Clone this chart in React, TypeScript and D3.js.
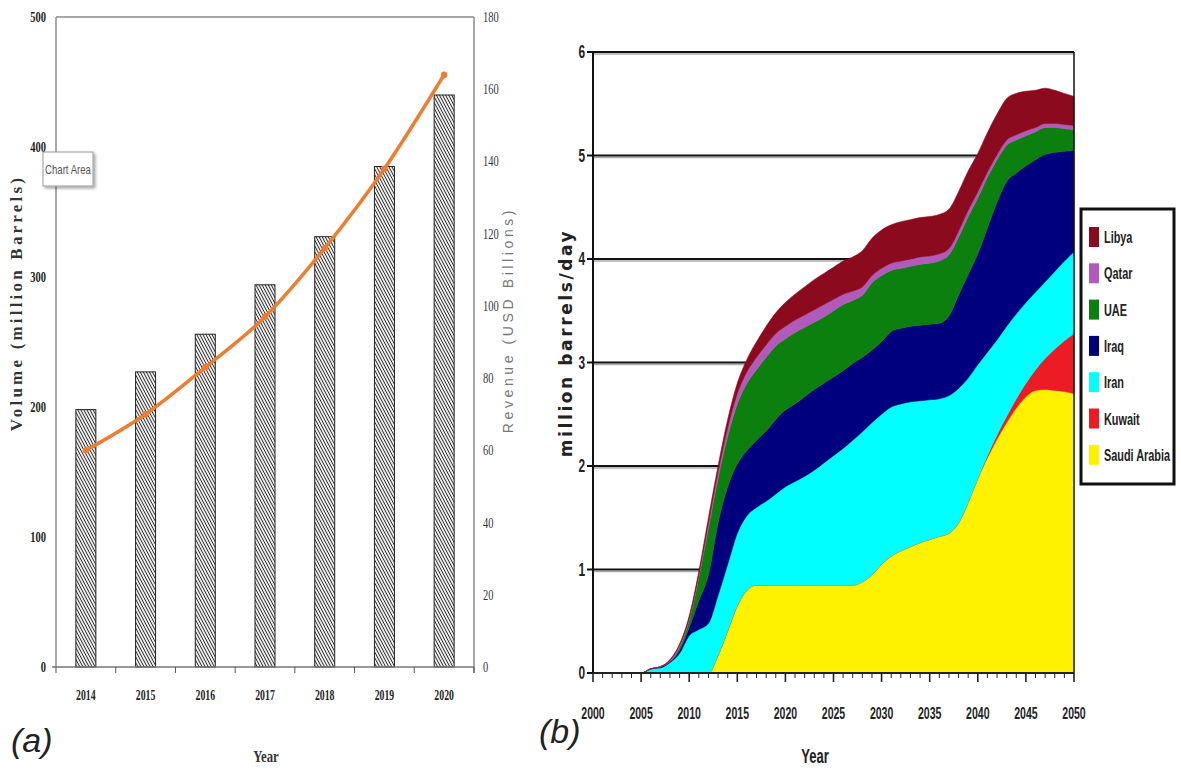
import React from 'react';
import * as d3 from 'd3';

// ---- panel (a) data ----
const barYears = ['2014', '2015', '2016', '2017', '2018', '2019', '2020'];
const volume = [198, 227, 256, 294, 331, 385, 440];
const revenue = [60, 70, 83, 97, 116, 138, 164];
const volTicks = [0, 100, 200, 300, 400, 500];
const revTicks = [0, 20, 40, 60, 80, 100, 120, 140, 160, 180];

// ---- panel (b) data, 2000..2050 ----
const firstYear = 2000;
const saudi = [0,0,0,0,0,0,0,0,0,0,0,0,0, 0.17,0.41,0.65,0.8, 0.85,0.85,0.85,0.85,0.85,0.85,0.85,0.85,0.85,0.85,0.85,
  0.88,0.95,1.05,1.13,1.18,1.22,1.26,1.29,1.32,1.35,1.45,1.65,1.88,2.08,2.26,2.42,2.56,2.67,2.73,2.74,2.73,2.72,2.7];
const kuwait = [0,0,0,0,0,0,0,0,0,0,0,0,0,0,0,0,0,0,0,0,0,0,0,0,0,0,0,0,0,0,0,0,0,0,0,0,0,0,0,0,0,
  0.02,0.04,0.06,0.09,0.13,0.2,0.3,0.4,0.49,0.58];
const iran = [0,0,0,0,0,0, 0.04,0.05,0.1,0.19,0.36,0.42,0.48,
  0.58,0.64,0.7,0.72,0.75,0.81,0.88,0.95,1.0,1.05,1.11,1.18,1.25,1.32,1.4,
  1.45,1.47,1.45,1.44,1.42,1.4,1.37,1.35,1.33,1.33,1.3,1.2,1.1,1.0,0.92,0.87,0.82,0.78,0.75,0.74,0.75,0.77,0.79];
const iraq = [0,0,0,0,0,0,0, 0.01,0.01,0.03,0.08,0.28,0.47,
  0.7,0.75,0.67,0.63,0.65,0.68,0.72,0.74,0.75,0.77,0.78,0.77,0.76,0.75,0.74,
  0.72,0.7,0.7,0.73,0.73,0.73,0.73,0.73,0.73,0.77,0.9,1.0,1.07,1.2,1.33,1.4,1.36,1.32,1.28,1.23,1.15,1.06,0.98];
const uae = [0,0,0,0,0,0,0,0, 0,0.03,0.07,0.22,0.45,
  0.43,0.49,0.58,0.65,0.68,0.71,0.71,0.69,0.69,0.67,0.65,0.64,0.64,0.64,0.61,
  0.6,0.65,0.64,0.59,0.58,0.58,0.59,0.59,0.6,0.59,0.56,0.56,0.54,0.49,0.41,0.35,0.32,0.29,0.27,0.26,0.24,0.22,0.2];
const qatar = [0,0,0,0,0,0,0,0, 0.01,0.02,0.02,0.03,0.05,
  0.06,0.08,0.1,0.11,0.12,0.12,0.12,0.12,0.12,0.12,0.12,0.12,0.11,0.1,0.09,
  0.08,0.07,0.07,0.07,0.07,0.07,0.07,0.07,0.07,0.06,0.06,0.06,0.06,0.05,0.05,0.05,0.05,0.05,0.04,0.04,0.04,0.04,0.04];
const libya = [0,0,0,0,0,0,0,0, 0.01,0.01,0.02,0.03,0.05,
  0.06,0.08,0.1,0.12,0.15,0.18,0.2,0.23,0.25,0.27,0.29,0.3,0.31,0.32,0.33,
  0.35,0.36,0.37,0.37,0.38,0.38,0.38,0.38,0.38,0.38,0.38,0.38,0.37,0.38,0.39,0.4,0.4,0.38,0.36,0.34,0.32,0.3,0.28];

const countries = ['Saudi Arabia', 'Kuwait', 'Iran', 'Iraq', 'UAE', 'Qatar', 'Libya'];
const countryColors = ['#FFF200', '#ED1C24', '#00FFFF', '#00007F', '#0B800F', '#B25AB9', '#8B0A1E'];
const legendOrder = ['Libya', 'Qatar', 'UAE', 'Iraq', 'Iran', 'Kuwait', 'Saudi Arabia'];
const yTicksB = [0, 1, 2, 3, 4, 5, 6];
const xLabelsB = [2000, 2005, 2010, 2015, 2020, 2025, 2030, 2035, 2040, 2045, 2050];

const serif = "'Liberation Serif', 'Times New Roman', serif";
const sans = "'Liberation Sans', Arial, sans-serif";

const App: React.FC = () => {
  // ---------- panel (a) ----------
  const ax0 = 56, ax1 = 474, ayTop = 17, ayBot = 667;
  const xA = d3.scaleBand<string>().domain(barYears).range([ax0, ax1]).paddingInner(0.665).paddingOuter(0.3325);
  const yVol = d3.scaleLinear().domain([0, 500]).range([ayBot, ayTop]);
  const yRev = d3.scaleLinear().domain([0, 180]).range([ayBot, ayTop]);
  const step = xA.step();
  const boundaries = d3.range(barYears.length + 1).map(i => ax0 + i * step);
  const cx = (i: number) => (xA(barYears[i]) as number) + xA.bandwidth() / 2;
  const revLine = d3.line<number>()
    .x((_, i) => cx(i))
    .y(d => yRev(d))
    .curve(d3.curveMonotoneX);

  // ---------- panel (b) ----------
  const bx0 = 593, bx1 = 1074, byTop = 52, byBot = 673;
  const xB = d3.scaleLinear().domain([2000, 2050]).range([bx0, bx1]);
  const yB = d3.scaleLinear().domain([0, 6]).range([byBot, byTop]);
  const series = [saudi, kuwait, iran, iraq, uae, qatar, libya];
  const rows = saudi.map((_, i) => {
    const r: Record<string, number> = { year: firstYear + i };
    countries.forEach((c, k) => { r[c] = series[k][i]; });
    return r;
  });
  const stacked = d3.stack<Record<string, number>>().keys(countries)(rows);
  const area = d3.area<any>()
    .x(d => xB(d.data.year))
    .y0(d => yB(d[0]))
    .y1(d => yB(d[1]))
    .curve(d3.curveMonotoneX);
  const colorOf = d3.scaleOrdinal<string, string>().domain(countries).range(countryColors);
  const minorYears = d3.range(2000, 2051);

  return (
    <svg width={1181} height={771} style={{ position: 'absolute', left: 0, top: 0, background: '#fff' }}>
      <defs>
        <pattern id="hatch" width="2.7" height="2.7" patternUnits="userSpaceOnUse" patternTransform="rotate(-28)">
          <rect width="2.7" height="2.7" fill="#efefef" />
          <line x1="0" y1="0" x2="0" y2="2.7" stroke="#2a2a2a" strokeWidth="1.8" />
        </pattern>
        <filter id="shadow" x="-20%" y="-20%" width="150%" height="150%">
          <feDropShadow dx="2" dy="2" stdDeviation="1.5" floodColor="#000" floodOpacity="0.35" />
        </filter>
      </defs>

      {/* ================= panel (a) ================= */}
      <g>
        <line x1={ax0} x2={ax1} y1={ayTop} y2={ayTop} stroke="#8a8a8a" strokeWidth={1.5} />
        <line x1={ax1} x2={ax1} y1={ayTop} y2={ayBot + 6} stroke="#8a8a8a" strokeWidth={1.5} />
        <line x1={ax0} x2={ax0} y1={ayTop} y2={ayBot} stroke="#8a8a8a" strokeWidth={1.5} />

        {barYears.map((yr, i) => (
          <rect key={yr} x={xA(yr)} y={yVol(volume[i])} width={xA.bandwidth()} height={ayBot - yVol(volume[i])}
            fill="url(#hatch)" stroke="#222" strokeWidth={1} />
        ))}

        <line x1={ax0 - 4} x2={ax1} y1={ayBot} y2={ayBot} stroke="#777" strokeWidth={1.5} />
        {boundaries.map((b, i) => (
          <line key={i} x1={b} x2={b} y1={ayBot} y2={ayBot + 6} stroke="#555" strokeWidth={1} />
        ))}

        <path d={revLine(revenue) || ''} fill="none" stroke="#ED7D31" strokeWidth={3.5} strokeLinecap="round" />
        {revenue.map((v, i) => (
          <circle key={i} cx={cx(i)} cy={yRev(v)} r={3.2} fill="#ED7D31" />
        ))}

        {volTicks.map(t => (
          <text key={t} transform={`translate(46,${yVol(t) + 5}) scale(0.7,1)`} textAnchor="end"
            fontFamily={serif} fontWeight="bold" fontSize={15} fill="#222">{t}</text>
        ))}
        {revTicks.map(t => (
          <text key={t} transform={`translate(483,${yRev(t) + 5}) scale(0.7,1)`} textAnchor="start"
            fontFamily={serif} fontSize={15} fill="#333">{t}</text>
        ))}
        {barYears.map((yr, i) => (
          <text key={yr} transform={`translate(${cx(i)},${700}) scale(0.7,1)`}
            textAnchor="middle" fontFamily={serif} fontWeight="bold" fontSize={14} fill="#222">{yr}</text>
        ))}

        <text transform="translate(22,303) rotate(-90)" textAnchor="middle" fontFamily={serif}
          fontWeight="bold" fontSize={17} fill="#333" letterSpacing={3.2}>Volume (million Barrels)</text>
        <text transform="translate(513,320) rotate(-90)" textAnchor="middle" fontFamily={sans}
          fontSize={14} fill="#777" letterSpacing={3.6}>Revenue (USD Billions)</text>
        <text transform="translate(266,762) scale(0.75,1)" textAnchor="middle" fontFamily={serif}
          fontWeight="bold" fontSize={17} fill="#333">Year</text>

        <g filter="url(#shadow)">
          <rect x={43} y={152} width={50} height={34} fill="#fff" stroke="#999" strokeWidth={1} />
        </g>
        <text transform="translate(68,174) scale(0.8,1)" textAnchor="middle" fontFamily={sans} fontSize={12} fill="#555">Chart Area</text>

        <text x={11} y={752} fontFamily={sans} fontSize={34} fill="#222" fontStyle="italic">(a)</text>
      </g>

      {/* ================= panel (b) ================= */}
      <g>
        {yTicksB.filter(t => t > 0).map(t => (
          <g key={t}>
            <line x1={bx0} x2={bx1} y1={yB(t) + 2} y2={yB(t) + 2} stroke="#aaa" strokeWidth={1.5} />
            <line x1={bx0} x2={bx1} y1={yB(t)} y2={yB(t)} stroke="#111" strokeWidth={2.2} />
          </g>
        ))}

        {stacked.map(s => (
          <path key={s.key} d={area(s as any) || ''} fill={colorOf(s.key)} stroke={colorOf(s.key)} strokeWidth={0.6} />
        ))}

        <line x1={bx1} x2={bx1} y1={byTop} y2={byBot} stroke="#111" strokeWidth={1.5} />
        <line x1={bx0} x2={bx0} y1={byTop - 1} y2={byBot} stroke="#111" strokeWidth={2} />
        <line x1={bx0} x2={bx1} y1={byBot} y2={byBot} stroke="#222" strokeWidth={2.2} />
        {yTicksB.map(t => (
          <line key={t} x1={bx0 - 6} x2={bx0} y1={yB(t)} y2={yB(t)} stroke="#111" strokeWidth={2} />
        ))}
        {minorYears.map(yr => (
          <line key={yr} x1={xB(yr)} x2={xB(yr)} y1={byBot} y2={byBot + (yr % 5 === 0 ? 9 : 5)}
            stroke="#222" strokeWidth={yr % 5 === 0 ? 1.6 : 1} />
        ))}

        {yTicksB.map(t => (
          <text key={t} transform={`translate(585,${yB(t) + 6}) scale(0.66,1)`} textAnchor="end"
            fontFamily={sans} fontWeight="bold" fontSize={18} fill="#222">{t}</text>
        ))}
        {xLabelsB.map(yr => (
          <text key={yr} transform={`translate(${xB(yr)},719) scale(0.62,1)`} textAnchor="middle"
            fontFamily={sans} fontWeight="bold" fontSize={17} fill="#222">{yr}</text>
        ))}

        <text transform="translate(572,343) rotate(-90)" textAnchor="middle" fontFamily="'DejaVu Sans', sans-serif"
          fontWeight="bold" fontSize={17} fill="#222" letterSpacing={2.6}>million barrels/day</text>
        <text transform="translate(815,763) scale(0.62,1)" textAnchor="middle" fontFamily={sans}
          fontWeight="bold" fontSize={21} fill="#222">Year</text>

        <text x={539} y={743} fontFamily={sans} fontSize={34} fill="#222" fontStyle="italic">(b)</text>

        {/* legend */}
        <rect x={1081} y={209} width={93} height={275} fill="#fff" stroke="#111" strokeWidth={3} />
        {legendOrder.map((c, i) => {
          const cy = 237 + i * 36.3;
          return (
            <g key={c}>
              <rect x={1089} y={cy - 10} width={10} height={20} fill={colorOf(c)} />
              <text transform={`translate(1104,${cy + 6}) scale(0.64,1)`} fontFamily={sans}
                fontWeight="bold" fontSize={17} fill="#222">{c}</text>
            </g>
          );
        })}
      </g>
    </svg>
  );
};

export default App;
